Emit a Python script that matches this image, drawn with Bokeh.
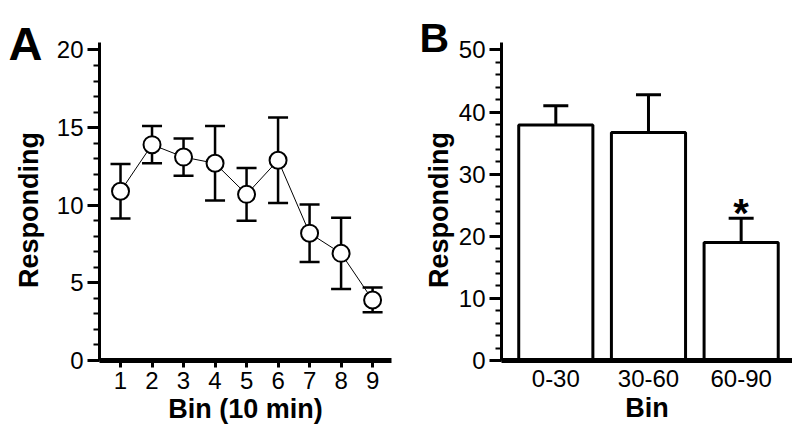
from bokeh.plotting import figure
from bokeh.layouts import row
from bokeh.models import (ColumnDataSource, Range1d, SingleIntervalTicker, FixedTicker,
                          Whisker, TeeHead, Label)
from bokeh.core.properties import value
from bokeh.embed import file_html
from bokeh.resources import INLINE

# ---- data ----
bins = [1, 2, 3, 4, 5, 6, 7, 8, 9]
bin_mean = [10.9, 13.9, 13.1, 12.7, 10.7, 12.9, 8.2, 6.9, 3.9]
bin_sem = [1.75, 1.2, 1.2, 2.4, 1.7, 2.75, 1.85, 2.3, 0.8]

categories = ["0-30", "30-60", "60-90"]
cat_mean = [37.9, 36.7, 19.0]
cat_sem = [3.1, 6.1, 3.9]
significant = ["", "", "*"]

y_title = "Responding"
x_title_a = "Bin (10 min)"
x_title_b = "Bin"

FONT = "Liberation Sans"
TICK_SIZE = "24px"
LABEL_SIZE = "27px"
H = 426


def strip(width, letter, lx, lbase, lsize, label_base):
    """Left strip holding the panel letter and the rotated y-axis title."""
    s = figure(width=width, height=H, x_range=Range1d(0, width), y_range=Range1d(H, 0),
               output_backend="svg", toolbar_location=None, min_border=0,
               x_axis_location=None, y_axis_location=None)
    s.frame_align = False
    s.grid.visible = False
    s.outline_line_color = None
    s.background_fill_color = "white"
    s.border_fill_color = "white"
    s.add_layout(Label(x=lx, y=lbase, text=letter, text_font=FONT,
                       text_font_size=lsize, text_font_style="bold", text_color="black",
                       text_align="left", text_baseline="alphabetic"))
    s.add_layout(Label(x=label_base, y=209.5, text=y_title, angle=90, angle_units="deg",
                       text_font=FONT, text_font_size=LABEL_SIZE, text_font_style="bold",
                       text_color="black", text_align="center", text_baseline="alphabetic"))
    return s


def make_fig(xr, yr, width, left, right, xlabel):
    p = figure(width=width, height=H, x_range=xr, y_range=yr,
               output_backend="svg", toolbar_location=None,
               min_border_left=left, min_border_right=right,
               min_border_top=42, min_border_bottom=66)
    p.frame_align = False
    p.grid.visible = False
    p.outline_line_color = None
    p.background_fill_color = "white"
    p.border_fill_color = "white"
    ax_y = p.yaxis[0]
    ax_x = p.xaxis[0]
    for ax in (ax_x, ax_y):
        ax.major_label_text_font = FONT
        ax.major_label_text_font_size = TICK_SIZE
        ax.major_label_text_color = "black"
        ax.axis_label_text_font = FONT
        ax.axis_label_text_font_size = LABEL_SIZE
        ax.axis_label_text_font_style = "bold"
        ax.axis_label_text_color = "black"
        ax.axis_line_color = "black"
        ax.major_tick_line_color = "black"
        ax.minor_tick_line_color = "black"
    ax_x.axis_label = xlabel
    ax_y.axis_line_width = 3
    ax_y.major_tick_line_width = 3
    ax_y.major_tick_out = 12
    ax_y.major_tick_in = 0
    ax_y.minor_tick_line_width = 2
    ax_y.minor_tick_out = 6
    ax_y.minor_tick_in = 0
    ax_y.major_label_standoff = 4
    ax_x.axis_line_width = 5
    ax_x.major_tick_line_width = 3
    ax_x.minor_tick_out = 0
    ax_x.minor_tick_in = 0
    ax_x.major_tick_in = 0
    return p


# ---- Panel A ----
srcA = ColumnDataSource(dict(
    x=bins, y=bin_mean,
    lo=[m - s for m, s in zip(bin_mean, bin_sem)],
    hi=[m + s for m, s in zip(bin_mean, bin_sem)],
))
sA = strip(50, "A", 8, 42.7, "47px", 28)
pA = make_fig(Range1d(0.333, 9.6), Range1d(0, 20.48), 350, 49, 9, x_title_a)
pA.yaxis[0].ticker = SingleIntervalTicker(interval=5, num_minor_ticks=5)
pA.xaxis[0].ticker = FixedTicker(ticks=bins)
pA.xaxis[0].major_tick_out = 7
pA.xaxis[0].major_label_standoff = 4
pA.xaxis[0].axis_label_standoff = 2

pA.add_layout(Whisker(source=srcA, base="x", lower="lo", upper="hi",
                      line_color="black", line_width=2.5, level="underlay",
                      lower_head=TeeHead(size=20, line_width=2.5, line_color="black"),
                      upper_head=TeeHead(size=20, line_width=2.5, line_color="black")))
pA.line("x", "y", source=srcA, line_color="black", line_width=1)
pA.scatter("x", "y", source=srcA, size=17, fill_color="white",
           line_color="black", line_width=2)

# ---- Panel B ----
xpos = list(range(1, len(categories) + 1))
srcB = ColumnDataSource(dict(
    x=xpos, y=cat_mean,
    hi=[m + s for m, s in zip(cat_mean, cat_sem)],
    star=significant,
))
sB = strip(55, "B", 19, 37.5, "41px", 38)
pB = make_fig(Range1d(0.414, 3.554), Range1d(0, 51.2), 337, 44, 0, x_title_b)
pB.yaxis[0].ticker = SingleIntervalTicker(interval=10, num_minor_ticks=5)
pB.xaxis[0].ticker = FixedTicker(ticks=xpos)
pB.xaxis[0].major_label_overrides = {i: c for i, c in zip(xpos, categories)}
pB.xaxis[0].major_tick_out = 0
pB.xaxis[0].major_label_standoff = 9
pB.xaxis[0].axis_label_standoff = 3

pB.vbar(x="x", top="y", bottom=0, width=0.8, source=srcB,
        fill_color="white", line_color="black", line_width=3)
pB.add_layout(Whisker(source=srcB, base="x", lower="y", upper="hi",
                      line_color="black", line_width=3, level="overlay",
                      lower_head=None,
                      upper_head=TeeHead(size=25, line_width=3, line_color="black")))
pB.text("x", "hi", text="star", source=srcB, text_font=value(FONT),
        text_font_size="40px", text_font_style="bold", text_color="black",
        text_align="center", text_baseline="alphabetic", y_offset=-5)

layout = row(sA, pA, sB, pB)
open("out.html", "w").write(file_html(layout, INLINE))
